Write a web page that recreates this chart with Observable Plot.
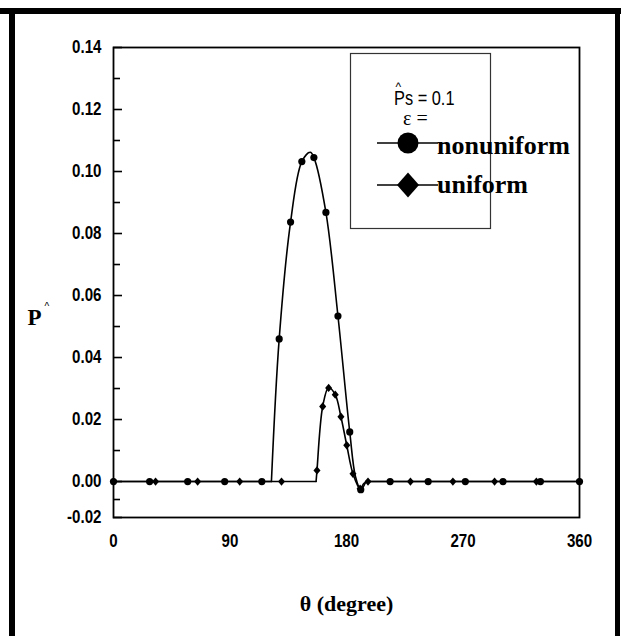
<!DOCTYPE html>
<html>
<head>
<meta charset="utf-8">
<script src="https://cdn.jsdelivr.net/npm/d3@7"></script>
<script src="https://cdn.jsdelivr.net/npm/@observablehq/plot@0.6"></script>
<style>
  body { margin: 0; background: #fff; }
  #wrap { position: relative; width: 621px; height: 636px; overflow: hidden; background: #fff; }
  #chart { position: absolute; left: 0; top: 0; }
  .bar { position: absolute; background: #000; }
  #legend { position: absolute; left: 0; top: 0; pointer-events: none; }
</style>
</head>
<body>
<div id="wrap">
  <div id="chart"></div>
  <div class="bar" style="left:0;top:8px;width:621px;height:6px"></div>
  <div class="bar" style="left:9px;top:8px;width:6px;height:628px"></div>
  <div class="bar" style="left:615px;top:8px;width:5px;height:628px"></div>
  <svg id="legend" width="621" height="636"></svg>
</div>
<script>
// Axis ticks
const thetaTicks = [0, 90, 180, 270, 360];
const pMajorTicks = [-0.02, 0, 0.02, 0.04, 0.06, 0.08, 0.10, 0.12, 0.14];
const pMinorTicks = [-0.01, 0.01, 0.03, 0.05, 0.07, 0.09, 0.11, 0.13];

// Pressure curves, nonuniform clearance
const nonuniformLineTheta = [0, 122, 128, 136.8, 145.5, 152, 154.8, 164.1, 173.4, 182.5, 187, 191, 195, 360];
const nonuniformLineP     = [0, 0, 0.046, 0.0837, 0.1032, 0.1062, 0.1045, 0.0868, 0.0534, 0.016, 0.0015, -0.0045, 0, 0];
// Pressure curves, uniform clearance
const uniformLineTheta = [0, 156.5, 157.2, 161.6, 166.2, 171.3, 175.7, 180.2, 185.0, 190.5, 193.5, 196.6, 360];
const uniformLineP     = [0, 0, 0.0036, 0.0242, 0.0303, 0.0280, 0.0209, 0.0117, 0.0025, -0.0040, -0.001, 0, 0];

// Marker positions along each curve
const nonuniformMarkTheta = [0, 27.9, 57.3, 85.9, 114.6, 128, 136.8, 145.5, 154.8, 164.1, 173.4, 182.5, 191, 213.7, 243.1, 271.8, 300.9, 329.8, 360];
const nonuniformMarkP     = [0, 0, 0, 0, 0, 0.046, 0.0837, 0.1032, 0.1045, 0.0868, 0.0534, 0.016, -0.0045, 0, 0, 0, 0, 0, 0];
const uniformMarkTheta = [0, 32.5, 65, 97.5, 129.8, 157.2, 161.6, 166.2, 171.3, 175.7, 180.2, 185.0, 190.5, 196.6, 229.4, 262.2, 294.4, 326.7, 360];
const uniformMarkP     = [0, 0, 0, 0, 0, 0.0036, 0.0242, 0.0302, 0.0280, 0.0209, 0.0117, 0.0025, -0.0040, 0, 0, 0, 0, 0, 0];

const zip = (t, p) => t.map((theta, i) => ({theta, p: p[i]}));

// Each curve: straight runs on the zero line, a smooth arc across the pressure hump
function curveMarks(theta, p) {
  const pts = zip(theta, p);
  const first = 1, last = pts.length - 2;          // where the hump leaves / rejoins zero
  const hump = pts.slice(first, last + 1);
  const lead = pts.slice(0, first + 1);
  const tail = pts.slice(last);
  const style = {x: "theta", y: "p", stroke: "#000", strokeWidth: 1.6};
  return [
    Plot.line(lead, style),
    Plot.line(hump, {...style, curve: "catmull-rom"}),
    Plot.line(tail, style)
  ];
}

// Slightly tall filled diamond
const diamond = {
  draw(ctx, size) {
    const h = Math.sqrt(size / Math.PI) * 1.15, w = h * 0.85;
    ctx.moveTo(0, -h); ctx.lineTo(w, 0); ctx.lineTo(0, h); ctx.lineTo(-w, 0); ctx.closePath();
  }
};

// The negative part of the P axis is drawn compressed
const NEG = 0.58;
const squeeze = p => (p < 0 ? p * NEG : p);

const W = 621, H = 636;
const L = 113, R = 579, T = 47, B = 517;
const sans = "'Liberation Sans', Arial, sans-serif";
const serif = "'Liberation Serif', 'Times New Roman', serif";

const chart = Plot.plot({
  width: W, height: H,
  marginLeft: L, marginRight: W - R, marginTop: T, marginBottom: H - B,
  style: {background: "transparent", color: "#000", fontFamily: sans},
  x: {domain: [0, 360]},
  y: {domain: [squeeze(-0.02), 0.14], transform: squeeze},
  marks: [
    Plot.axisX(thetaTicks, {tickSize: 0, tickPadding: 17, fontSize: 18, fontWeight: "bold", label: null}),
    Plot.axisY(pMajorTicks, {tickSize: 0, tickPadding: 12, fontSize: 18, fontWeight: "bold", label: null,
      tickFormat: d => d.toFixed(2)}),
    Plot.tickY(pMajorTicks, {y: d => d, insetRight: (R - L) - 9, strokeWidth: 1.6}),
    Plot.tickY(pMinorTicks, {y: d => d, insetRight: (R - L) - 7, strokeWidth: 1.6}),
    Plot.frame({stroke: "#000", strokeWidth: 1.8}),
    ...curveMarks(uniformLineTheta, uniformLineP),
    ...curveMarks(nonuniformLineTheta, nonuniformLineP),
    Plot.dot(zip(nonuniformMarkTheta, nonuniformMarkP), {x: "theta", y: "p", r: 3.6, fill: "#000", stroke: "none"}),
    Plot.dot(zip(uniformMarkTheta, uniformMarkP), {x: "theta", y: "p", r: 3.6, symbol: diamond, fill: "#000", stroke: "none"}),
    // axis titles
    Plot.text(["θ (degree)"], {frameAnchor: "bottom", lineAnchor: "bottom", dy: 93, fontSize: 22, fontWeight: "bold", fontFamily: serif}),
    Plot.text(["P"], {frameAnchor: "left", textAnchor: "start", lineAnchor: "bottom", dx: 27 - L, dy: 324 - (T + B) / 2, fontSize: 23, fontWeight: "bold", fontFamily: serif}),
    Plot.text(["^"], {frameAnchor: "left", textAnchor: "start", lineAnchor: "bottom", dx: 44 - L, dy: 309 - (T + B) / 2, fontSize: 10, fontFamily: sans})
  ]
});
document.getElementById("chart").appendChild(chart);

// Narrow the tick labels horizontally, keeping each one's anchor point
d3.select(chart).selectAll("g[aria-label='x-axis tick label'] text, g[aria-label='y-axis tick label'] text")
  .each(function () {
    const t = this.getAttribute("transform") || "";
    this.setAttribute("transform", t + " scale(0.84,1)");
  });

// Legend
const lg = d3.select("#legend");
lg.append("rect").attr("x", 350.5).attr("y", 53.5).attr("width", 140).attr("height", 175)
  .attr("fill", "none").attr("stroke", "#333").attr("stroke-width", 1.2);
lg.append("text").attr("transform", "translate(394,105) scale(0.84,1)")
  .attr("font-family", sans).attr("font-size", 19.5).text("Ps = 0.1");
lg.append("text").attr("x", 395.5).attr("y", 91).attr("font-family", sans)
  .attr("font-size", 12).text("^");
lg.append("text").attr("x", 403).attr("y", 125).attr("font-family", serif).attr("font-size", 20).text("ε =");
const rows = [
  {label: "nonuniform", y: 143, base: 154, sym: "circle"},
  {label: "uniform", y: 185, base: 193, sym: "diamond"}
];
for (const row of rows) {
  lg.append("line").attr("x1", 377).attr("x2", 438).attr("y1", row.y).attr("y2", row.y)
    .attr("stroke", "#000").attr("stroke-width", 1.6);
  if (row.sym === "circle") {
    lg.append("circle").attr("cx", 408).attr("cy", row.y).attr("r", 10.5).attr("fill", "#000");
  } else {
    lg.append("path").attr("d", `M408,${row.y - 12.5}L419,${row.y}L408,${row.y + 12.5}L397,${row.y}Z`).attr("fill", "#000");
  }
  lg.append("text").attr("x", 437).attr("y", row.base).attr("font-family", serif)
    .attr("font-weight", "bold").attr("font-size", 26).text(row.label);
}
</script>
</body>
</html>
